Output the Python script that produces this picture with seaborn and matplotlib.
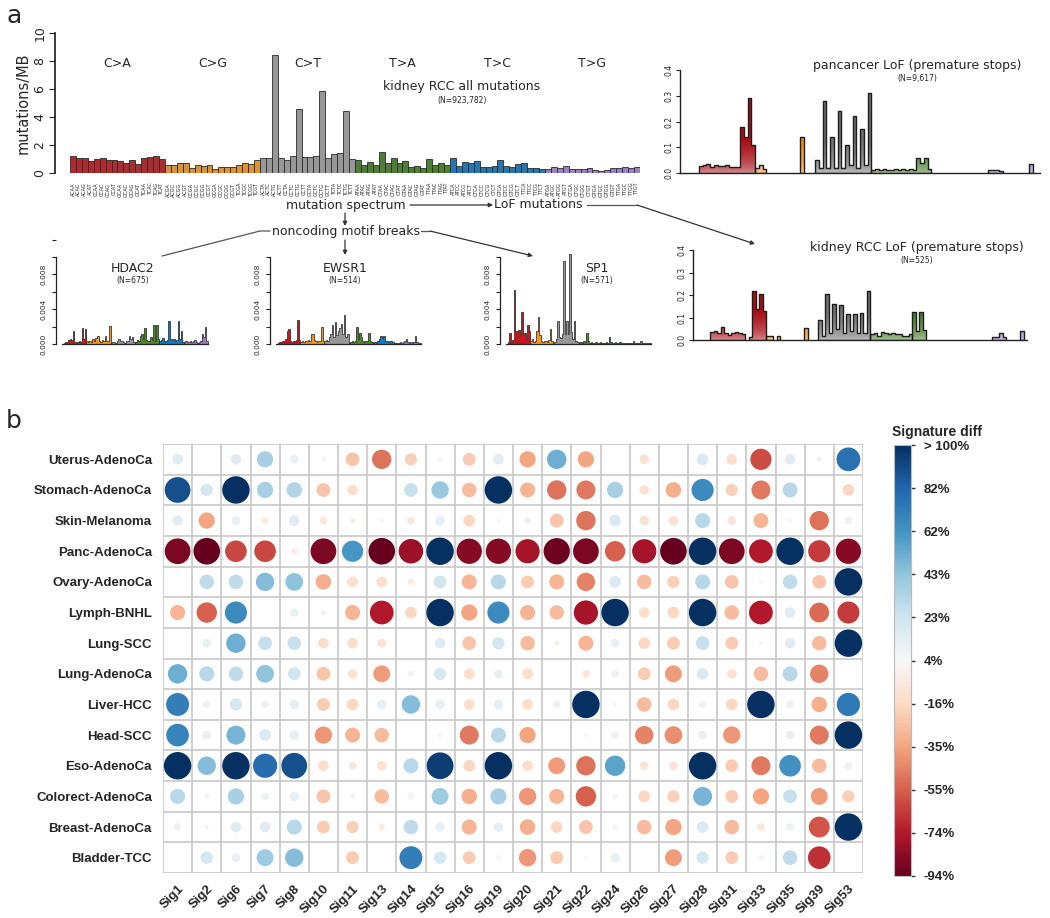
import numpy as np
import pandas as pd
import matplotlib.pyplot as plt
from matplotlib.colors import LinearSegmentedColormap, Normalize, PowerNorm, to_rgb
import seaborn as sns

sns.set_theme(style="white")
plt.rcParams['font.family'] = ['DejaVu Sans']

# ---------------- panel a data ----------------
classes = ["C>A", "C>G", "C>T", "T>A", "T>C", "T>G"]
bases = ["A", "C", "G", "T"]
contexts = [five + c[0] + c[2] + three for c in classes for five in bases for three in bases]

# kidney RCC all mutations, mutations/MB
rate_CA = [1.25, 1.05, 1.05, 0.85, 1.0, 1.1, 0.9, 0.9, 0.85, 0.75, 0.9, 0.65, 1.1, 1.15, 1.2, 1.0]
rate_CG = [0.55, 0.6, 0.75, 0.75, 0.35, 0.55, 0.5, 0.6, 0.3, 0.4, 0.45, 0.4, 0.55, 0.75, 0.65, 0.9]
rate_CT = [1.05, 1.05, 8.45, 1.05, 0.95, 1.25, 4.55, 1.15, 1.15, 1.25, 5.85, 1.1, 1.35, 1.4, 4.4, 1.0]
rate_TA = [0.95, 0.55, 0.8, 0.6, 1.52, 0.74, 1.1, 0.74, 0.83, 0.43, 0.48, 0.38, 0.98, 0.55, 0.71, 0.55]
rate_TC = [1.1, 0.5, 0.81, 0.69, 0.88, 0.45, 0.45, 0.52, 0.9, 0.5, 0.43, 0.62, 0.69, 0.36, 0.33, 0.29]
rate_TG = [0.29, 0.4, 0.33, 0.5, 0.26, 0.26, 0.26, 0.38, 0.19, 0.14, 0.24, 0.38, 0.33, 0.4, 0.33, 0.43]

# LoF (premature stops) profiles: (first bin, class, heights)
pan_lof = [
    (5, "C>A", [0.028, 0.03, 0.035, 0.025, 0.032, 0.026, 0.028, 0.03, 0.025, 0.025, 0.022, 0.18, 0.14, 0.29, 0.11]),
    (20, "C>G", [0.02, 0.03, 0.015]),
    (32, "C>G", [0.14]),
    (36, "C>T", [0.05, 0.02, 0.28, 0.02, 0.14, 0.02, 0.24, 0.02, 0.11, 0.03, 0.22, 0.02, 0.17, 0.03, 0.31]),
    (51, "T>A", [0.012, 0.015, 0.012, 0.015, 0.013, 0.012, 0.015, 0.012, 0.015, 0.012, 0.014, 0.012, 0.06, 0.04, 0.06, 0.015]),
    (82, "T>G", [0.01, 0.013, 0.013, 0.008]),
    (93, "T>G", [0.035]),
]
kidney_lof = [
    (5, "C>A", [0.035, 0.04, 0.03, 0.058, 0.03, 0.022, 0.03, 0.035, 0.032, 0.028]),
    (16, "C>A", [0.015, 0.22, 0.14, 0.205, 0.13]),
    (21, "C>G", [0.02, 0.02]),
    (24, "C>G", [0.02]),
    (32, "C>G", [0.055]),
    (36, "C>T", [0.09, 0.02, 0.205, 0.03, 0.16, 0.05, 0.155, 0.03, 0.115, 0.04, 0.115, 0.03, 0.12, 0.03, 0.22]),
    (51, "T>A", [0.025, 0.03, 0.02, 0.035, 0.03, 0.025, 0.03, 0.025, 0.025, 0.02, 0.02, 0.025]),
    (63, "T>A", [0.125, 0.04, 0.125, 0.045]),
    (86, "T>G", [0.015, 0.015, 0.03, 0.012]),
    (94, "T>G", [0.04]),
]

# noncoding motif breaks, per class (16 contexts each)
hdac2 = {
    "C>A": [0, 0.0001, 0.0002, 0.0002, 0.0005, 0.0006, 0.0005, 0.0015, 0.0002, 0.0001, 0.0002, 0.0003, 0.0002, 0.0018, 0.0006, 0.0017],
    "C>G": [0.0003, 0.0002, 0.0004, 0.0002, 0.0006, 0.0004, 0.0007, 0.0009, 0.0003, 0.0002, 0.0005, 0.0003, 0.0009, 0.0004, 0.0003, 0.0021],
    "C>T": [0.0001, 0.0002, 0.0002, 0.0001, 0.0003, 0.0006, 0.0004, 0.0003, 0.0002, 0.0001, 0.0003, 0.0004, 0.0009, 0.0006, 0.0008, 0.0002],
    "T>A": [0.0002, 0.0005, 0.0004, 0.0009, 0.0011, 0.0006, 0.0018, 0.0005, 0.0004, 0.0003, 0.0008, 0.0005, 0.0022, 0.0004, 0.0022, 0.0006],
    "T>C": [0.0003, 0.0005, 0.0007, 0.0004, 0.0004, 0.0005, 0.0026, 0.0006, 0.0005, 0.0006, 0.0003, 0.0005, 0.0026, 0.0006, 0.0015, 0.0002],
    "T>G": [0.0002, 0.0003, 0.0002, 0.0002, 0.0004, 0.0002, 0.0003, 0.0005, 0.0002, 0.0001, 0.0002, 0.0003, 0.0011, 0.0008, 0.0019, 0.0003],
}
ewsr1 = {
    "C>A": [0, 0.0001, 0.0002, 0.0002, 0.0003, 0.0004, 0.0006, 0.0015, 0.0017, 0.0003, 0.0002, 0.0003, 0.0004, 0.0005, 0.0028, 0.0005],
    "C>G": [0.0002, 0.0003, 0.0002, 0.0004, 0.0003, 0.0005, 0.0004, 0.0012, 0.0012, 0.0005, 0.0003, 0.0002, 0.0004, 0.0003, 0.0019, 0.0003],
    "C>T": [0.0003, 0.0005, 0.0004, 0.0008, 0.0012, 0.0022, 0.0008, 0.0025, 0.001, 0.0015, 0.0018, 0.0023, 0.0012, 0.0033, 0.0008, 0.0011],
    "T>A": [0.0001, 0.0002, 0.0003, 0.0002, 0.0004, 0.0019, 0.0006, 0.0013, 0.0008, 0.0003, 0.0002, 0.0003, 0.0004, 0.0013, 0.0003, 0.0002],
    "T>C": [0.0001, 0.0002, 0.0001, 0.0003, 0.0006, 0.0009, 0.0007, 0.0009, 0.0004, 0.0004, 0.0002, 0.0003, 0.0003, 0.0002, 0.0001, 0.0001],
    "T>G": [0.0001, 0.0001, 0.0002, 0.0001, 0.0002, 0.0003, 0.0006, 0.0002, 0.0001, 0.0002, 0.0001, 0.0002, 0.0009, 0.0002, 0.0001, 0.0001],
}
sp1 = {
    "C>A": [0, 0.0002, 0.0013, 0.0002, 0.0005, 0.0062, 0.0015, 0.0014, 0.0016, 0.0012, 0.0037, 0.0012, 0.0013, 0.0006, 0.0022, 0.0015],
    "C>G": [0.0003, 0.0006, 0.0002, 0.0004, 0.0015, 0.0031, 0.001, 0.0004, 0.0002, 0.0003, 0.0004, 0.0002, 0.0005, 0.0017, 0.0003, 0.0001],
    "C>T": [0.0002, 0.0006, 0.0026, 0.0008, 0.0007, 0.0012, 0.0095, 0.0012, 0.0027, 0.0012, 0.0103, 0.0014, 0.0006, 0.0027, 0.0004, 0.0002],
    "T>A": [0.0001, 0.0002, 0.0001, 0.0003, 0.0002, 0.0013, 0.0003, 0.0001, 0.0002, 0.0001, 0.0001, 0.0002, 0.0001, 0.0001, 0.0002, 0.0001],
    "T>C": [0.0001, 0.0001, 0.0002, 0.0001, 0.0008, 0.0002, 0.0001, 0.0001, 0.0002, 0.0001, 0.0001, 0.0002, 0.0001, 0.0001, 0.0001, 0.0001],
    "T>G": [0.0001, 0.0001, 0.0001, 0.0001, 0.0003, 0.0001, 0.0001, 0.0001, 0.0001, 0.0004, 0.0001, 0.0001, 0.0001, 0.0001, 0.0001, 0.0001],
}

# ---------------- panel b data ----------------
cancers = ["Uterus-AdenoCa", "Stomach-AdenoCa", "Skin-Melanoma", "Panc-AdenoCa", "Ovary-AdenoCa",
           "Lymph-BNHL", "Lung-SCC", "Lung-AdenoCa", "Liver-HCC", "Head-SCC", "Eso-AdenoCa",
           "Colorect-AdenoCa", "Breast-AdenoCa", "Bladder-TCC"]
signatures = ["Sig1", "Sig2", "Sig6", "Sig7", "Sig8", "Sig10", "Sig11", "Sig13", "Sig14", "Sig15", "Sig16",
              "Sig19", "Sig20", "Sig21", "Sig22", "Sig24", "Sig26", "Sig27", "Sig28", "Sig31", "Sig33",
              "Sig35", "Sig39", "Sig53"]
nan = np.nan
sig_diff = [
    [15, nan, 15, 35, 10, 3, -25, -50, -20, 4, -22, 15, -35, 50, -35, nan, -12, nan, 18, -15, -60, 15, -3, 75],
    [88, 20, 100, 35, 32, -25, -15, nan, 25, 40, -28, 100, -30, -50, -48, 35, -12, -32, 65, -20, -48, 30, nan, -18],
    [14, -35, 10, -6, 15, -8, -4, -2, -8, 12, -18, 2, -5, -25, -50, 18, -12, -12, 30, -10, -30, 2, -50, 8],
    [-88, -94, -62, -62, -5, -88, 60, -94, -80, 100, -85, -85, -78, -92, -88, -55, -78, -94, 100, -88, -75, 100, -65, -85],
    [nan, 28, 28, 45, 42, -32, -15, -15, -6, 22, -30, 30, -22, -30, -45, 18, -28, -20, 30, -25, 2, 28, -25, 100],
    [-30, -55, 65, nan, 10, -3, -30, -75, -18, 100, -35, 65, -30, -28, -78, 100, -15, -18, 100, -28, -75, 15, -52, -65],
    [nan, 10, 50, 25, 25, -15, -15, -10, nan, 15, -25, 20, -28, -3, -30, 10, -18, -22, 25, -22, 2, 15, -28, 100],
    [50, 30, 28, 42, 22, -25, -12, -38, 6, 20, -15, 10, -15, nan, -8, 8, -22, -38, 18, -12, -28, 30, -45, nan],
    [70, 8, 20, 8, 12, -22, -18, 12, 45, 12, -15, 12, -15, 8, 100, 2, -28, -18, 8, -18, 100, 8, -32, 72],
    [68, 10, 48, 18, 12, -40, -30, -28, nan, 4, -48, 30, -35, nan, 2, 8, -45, -42, 10, -40, nan, 10, -48, 100],
    [100, 45, 100, 78, 88, -15, -8, -12, 30, 95, -18, 100, -15, -38, -50, 55, -10, -10, 100, -22, -48, 62, -28, 8],
    [30, -3, 35, 8, 12, -25, -3, -28, 6, 38, -32, 35, -40, -30, -55, 5, -18, -20, 48, -22, -35, 25, -38, -20],
    [8, -2, 15, 15, 30, -22, -20, -6, 28, 12, -30, 12, -32, -18, -25, 5, -28, -35, 18, -28, -8, 8, -58, 100],
    [nan, 20, 10, 38, 45, nan, -22, nan, 70, 20, -22, 4, -40, -22, 3, 12, nan, -38, 20, -22, 5, 28, -68, nan],
]
cbar_labels = ["-94%", "-74%", "-55%", "-35%", "-16%", "4%", "23%", "43%", "62%", "82%", "> 100%"]

class_colors = {"C>A": "#c4161c", "C>G": "#f7941d", "C>T": "#979797",
                "T>A": "#4a8a2a", "T>C": "#1379c5", "T>G": "#9b78c8"}
lof_colors = {"C>A": "#a80d14", "C>G": "#f08c10", "C>T": "#6f6f6f", "T>A": "#3f7b1f", "T>G": "#9676c4"}

W, H = 1050, 918
fig = plt.figure(figsize=(W / 100, H / 100), dpi=100)


def px_axes(l, t, r, b):
    return fig.add_axes([l / W, 1 - b / H, (r - l) / W, (b - t) / H])


# ---- main spectrum
ax = px_axes(70, 33, 640, 173)
df_a = pd.DataFrame({"context": contexts,
                     "rate": rate_CA + rate_CG + rate_CT + rate_TA + rate_TC + rate_TG,
                     "cls": np.repeat(classes, 16)})
sns.barplot(data=df_a, x="context", y="rate", hue="cls", palette=class_colors, dodge=False,
            width=1.0, errorbar=None, edgecolor="#2a2a2a", linewidth=0.6, legend=False, ax=ax)
for s in ["top", "right", "bottom"]:
    ax.spines[s].set_visible(False)
ax.spines["left"].set_position(("outward", 11))
ax.spines["left"].set_bounds(0, 10)
ax.spines["left"].set_color("#222222")
ax.set_xlim(-0.5, 95.5)
ax.set_ylim(0, 10)
ax.set_yticks(range(0, 11, 2))
ax.set_yticklabels([str(v) for v in range(0, 11, 2)], rotation=90, va="center", fontsize=9)
ax.tick_params(axis="y", left=True, length=4, width=0.8, color="#222222", pad=2)
ax.set_xticks(range(96))
ax.set_xticklabels(contexts, rotation=90, fontsize=3.6)
ax.tick_params(axis="x", bottom=False, pad=1)
ax.set_xlabel("")
ax.set_ylabel("mutations/MB", fontsize=10.5, labelpad=2)
ax.patch.set_alpha(0)
for k, cls in enumerate(classes):
    ax.text(16 * k + 7.5, 7.85, cls, ha="center", va="center", fontsize=9)
ax.text(65.5, 6.15, "kidney RCC all mutations", ha="center", va="center", fontsize=9)
ax.text(65.5, 5.2, "(N=923,782)", ha="center", va="center", fontsize=5.5)


def lof_panel(ax, segments, ymax=0.4):
    for start, cls, vals in segments:
        xs = np.arange(start, start + len(vals) + 1)
        ys = np.append(vals, vals[-1])
        outline = ax.fill_between(xs, ys, step="post", facecolor="none", edgecolor="#1e1e1e",
                                  lw=1.0, zorder=3)
        dark = to_rgb(lof_colors[cls])
        light = tuple(0.4 * c + 0.6 for c in dark)
        cmap = LinearSegmentedColormap.from_list("g", [light, dark])
        grad = np.linspace(0, ymax, 256).reshape(-1, 1)
        im = ax.imshow(grad, extent=[xs[0], xs[-1], 0, ymax], origin="lower", aspect="auto",
                       cmap=cmap, norm=PowerNorm(0.5, vmin=0, vmax=0.13), zorder=2)
        im.set_clip_path(outline.get_paths()[0], ax.transData)
    for s in ["top", "right"]:
        ax.spines[s].set_visible(False)
    for s in ["left", "bottom"]:
        ax.spines[s].set_color("#222222")
        ax.spines[s].set_linewidth(1.0)
    ax.set_xlim(0, 96)
    ax.set_ylim(0, ymax)
    ax.set_xticks([])
    ax.set_yticks([0, 0.1, 0.2, 0.3, 0.4])
    ax.set_yticklabels(["0.0", "0.1", "0.2", "0.3", "0.4"], rotation=90, va="center", fontsize=5.5)
    ax.tick_params(axis="y", left=True, length=3, width=0.8, color="#222222", pad=2)
    ax.patch.set_alpha(0)


lof_panel(px_axes(680, 70, 1040, 173), pan_lof)
lof_panel(px_axes(693, 250, 1027, 340), kidney_lof)


def motif_panel(ax, values, extra_tick=False):
    for k, cls in enumerate(classes):
        xs = np.arange(16 * k - 0.5, 16 * k + 16.5)
        ys = np.append(values[cls], values[cls][-1])
        ax.fill_between(xs, ys, step="post", facecolor=class_colors[cls], edgecolor="#1e1e1e", lw=0.5)
    for s in ["top", "right"]:
        ax.spines[s].set_visible(False)
    ax.spines["left"].set_position(("outward", 4))
    ax.spines["left"].set_bounds(0, 0.010)
    for s in ["left", "bottom"]:
        ax.spines[s].set_color("#222222")
        ax.spines[s].set_linewidth(0.9)
    ax.set_xlim(-0.5, 95.5)
    ax.set_ylim(0, 0.012)
    ticks = [0, 0.002, 0.004, 0.006, 0.008, 0.010] + ([0.012] if extra_tick else [])
    ax.set_yticks(ticks)
    ax.set_yticklabels(["0.000", "", "0.004", "", "0.008", ""] + ([""] if extra_tick else []),
                       rotation=90, va="center", fontsize=5.3)
    ax.tick_params(axis="y", left=True, length=3, width=0.8, color="#222222", pad=4)
    ax.set_xticks([])
    ax.patch.set_alpha(0)


motif_panel(px_axes(62, 239.6, 208, 344), hdac2, extra_tick=True)
motif_panel(px_axes(276, 239.6, 421, 344), ewsr1)
motif_panel(px_axes(506, 239.6, 651, 344), sp1)

# ---------------- panel b ----------------
axb = px_axes(163, 444, 863, 873)
rows = []
for i, cancer in enumerate(cancers):
    for j, sig in enumerate(signatures):
        v = sig_diff[i][j]
        if not np.isnan(v):
            rows.append({"row": i, "col": j, "diff": min(v, 100), "mag": min(abs(v), 100)})
df_b = pd.DataFrame(rows)
sns.scatterplot(data=df_b, x="col", y="row", hue="diff", size="mag", palette="RdBu",
                hue_norm=Normalize(-94, 100), sizes=(0, 390), size_norm=(0, 100),
                edgecolor="none", legend=False, ax=axb, zorder=3)
for k in range(25):
    axb.axvline(k - 0.5, color="#c8c8c8", lw=1.2, zorder=1)
for k in range(15):
    axb.axhline(k - 0.5, color="#c8c8c8", lw=1.2, zorder=1)
axb.set_xlim(-0.5, 23.5)
axb.set_ylim(13.5, -0.5)
axb.set_xticks(range(24))
axb.set_xticklabels(signatures, rotation=45, ha="right", rotation_mode="anchor",
                    fontsize=9.5, fontweight="bold", family="Liberation Sans")
axb.set_yticks(range(14))
axb.set_yticklabels(cancers, fontsize=9.5, fontweight="bold", family="Liberation Sans")
axb.tick_params(axis="both", length=0)
axb.tick_params(axis="x", pad=7)
axb.tick_params(axis="y", pad=8)
axb.set_xlabel("")
axb.set_ylabel("")
for s in axb.spines.values():
    s.set_visible(False)

cax = px_axes(894, 445, 911, 876)
sm = plt.cm.ScalarMappable(norm=Normalize(-94, 100), cmap="RdBu")
cb = fig.colorbar(sm, cax=cax)
cb.set_ticks(np.linspace(-94, 100, 11))
cb.set_ticklabels(cbar_labels)
cb.outline.set_edgecolor("#bbbbbb")
cb.outline.set_linewidth(0.8)
cax.tick_params(length=3, width=1, color="#333333", labelsize=9.5, pad=6)
for t in cax.get_yticklabels():
    t.set_fontweight("bold")
    t.set_family("Liberation Sans")

# ---------------- overlay: letters, titles, arrows ----------------
ov = fig.add_axes([0, 0, 1, 1])
ov.set_xlim(0, W)
ov.set_ylim(H, 0)
ov.axis("off")
ov.patch.set_alpha(0)

ov.text(14, 16, "a", fontsize=18, ha="center", va="center")
ov.text(14, 421, "b", fontsize=18, ha="center", va="center")
ov.text(917, 65, "pancancer LoF (premature stops)", fontsize=9, ha="center", va="center")
ov.text(917, 79, "(N=9,617)", fontsize=5.5, ha="center", va="center")
ov.text(917, 247, "kidney RCC LoF (premature stops)", fontsize=9, ha="center", va="center")
ov.text(917, 260, "(N=525)", fontsize=5.5, ha="center", va="center")
for x, name, n in [(133, "HDAC2", "(N=675)"), (345, "EWSR1", "(N=514)"), (597, "SP1", "(N=571)")]:
    ov.text(x, 268, name, fontsize=9, ha="center", va="center")
    ov.text(x, 281, n, fontsize=5.5, ha="center", va="center")
ov.text(346, 205, "mutation spectrum", fontsize=9, ha="center", va="center")
ov.text(538, 205, "LoF mutations", fontsize=9, ha="center", va="center")
ov.text(346, 232, "noncoding motif breaks", fontsize=9, ha="center", va="center")
ov.text(937, 432, "Signature diff", fontsize=10, fontweight="bold", ha="center", va="center",
        family="Liberation Sans")


def link(pts, head=True):
    xs, ys = zip(*pts)
    if head:
        ov.plot(xs[:-1], ys[:-1], color="#555555", lw=0.9)
        ov.annotate("", xy=pts[-1], xytext=pts[-2],
                    arrowprops=dict(arrowstyle="-|>", color="#333333", lw=0.9,
                                    mutation_scale=6, shrinkA=0, shrinkB=0))
    else:
        ov.plot(xs, ys, color="#555555", lw=0.9)


link([(410, 205), (493, 205)])
link([(587, 205), (637, 205), (755, 244)])
link([(345, 213), (345, 226)])
link([(345, 240), (345, 255)])
link([(270, 231), (260, 231), (162, 256)], head=False)
link([(421, 231), (430, 231), (533, 256)])

fig.savefig("out.png", dpi=100)
